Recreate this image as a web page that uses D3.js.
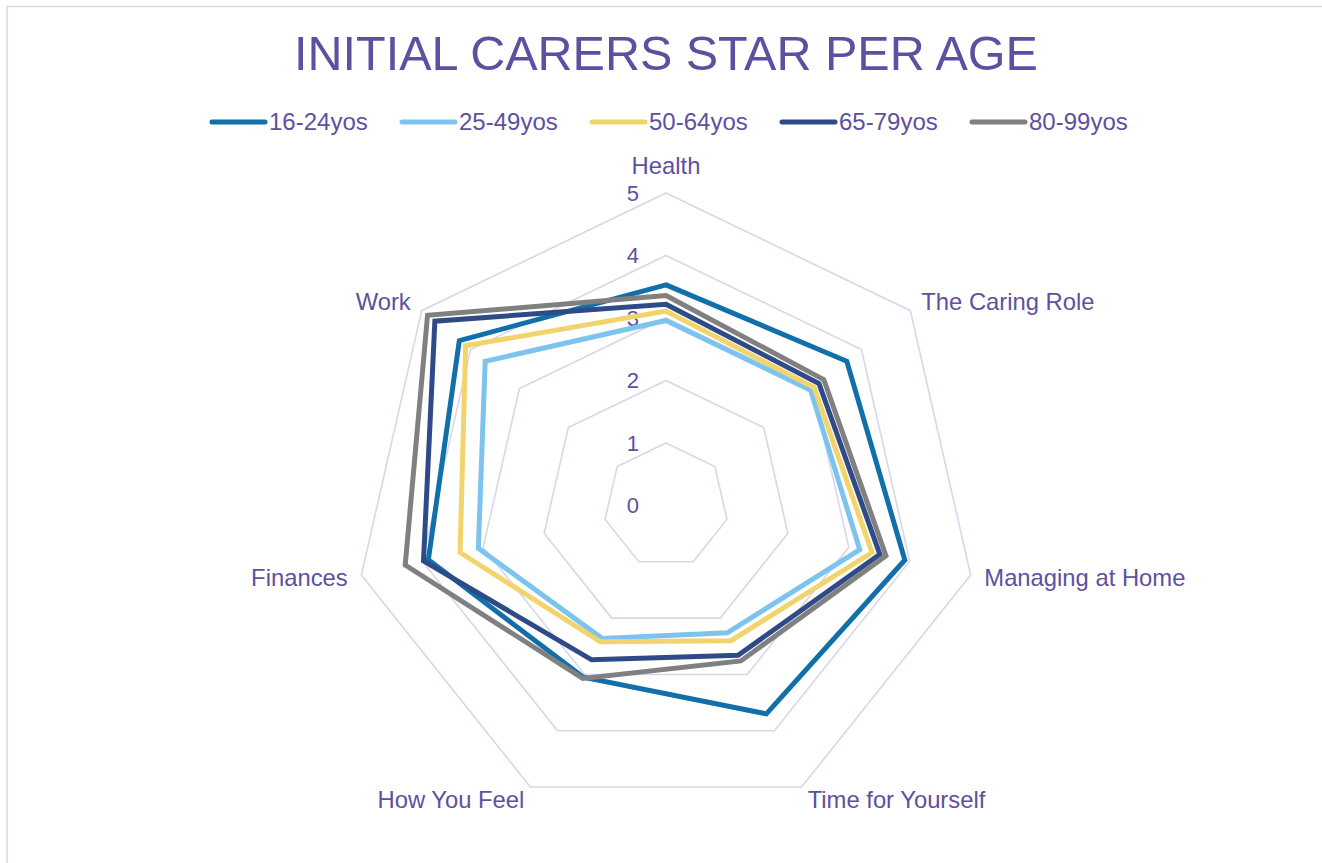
<!DOCTYPE html>
<html>
<head>
<meta charset="utf-8">
<script src="https://cdn.jsdelivr.net/npm/d3@7"></script>
<style>
  html, body { margin: 0; padding: 0; background: #fff; }
  svg { display: block; font-family: "Liberation Sans", Arial, sans-serif; }
</style>
</head>
<body>
<svg id="chart" width="1322" height="863"></svg>
<script>
// --- data ---
const axes = ["Health", "The Caring Role", "Managing at Home", "Time for Yourself",
              "How You Feel", "Finances", "Work"];
const seriesNames = ["16-24yos", "25-49yos", "50-64yos", "65-79yos", "80-99yos"];
const age16_24 = [3.53, 3.70, 3.92, 3.70, 3.05, 3.90, 4.23];
const age25_49 = [2.96, 2.96, 3.18, 2.26, 2.36, 3.08, 3.70];
const age50_64 = [3.11, 3.03, 3.38, 2.40, 2.42, 3.38, 4.10];
const age65_79 = [3.22, 3.13, 3.51, 2.66, 2.74, 3.98, 4.73];
const age80_99 = [3.36, 3.23, 3.61, 2.76, 3.07, 4.28, 4.88];
const seriesValues = [age16_24, age25_49, age50_64, age65_79, age80_99];
const seriesColors = ["#1170aa", "#7cc4ee", "#f2d46d", "#2f4b87", "#808080"];
const ticks = [0, 1, 2, 3, 4, 5];

const TEXT = "#5e50a1";
const GRID = "#d9d5ea";

const svg = d3.select("#chart");
const cx = 666, cy = 505.5, R = 312.5;

// chart frame
svg.append("path")
  .attr("d", `M7,870 L7,6.5 L1330,6.5`)
  .attr("fill", "none")
  .attr("stroke", GRID)
  .attr("stroke-width", 1.5);

// title
svg.append("text")
  .attr("x", cx).attr("y", 70)
  .attr("text-anchor", "middle")
  .attr("fill", TEXT)
  .style("font-size", "48.5px")
  .text("INITIAL CARERS STAR PER AGE");

// legend
const legend = svg.append("g").selectAll("g")
  .data(seriesNames)
  .join("g")
  .attr("transform", (d, i) => `translate(${212 + i * 190},122)`);
legend.append("line")
  .attr("x1", 0).attr("x2", 53)
  .attr("stroke", (d, i) => seriesColors[i])
  .attr("stroke-width", 5)
  .attr("stroke-linecap", "round");
legend.append("text")
  .attr("x", 57)
  .attr("dy", "0.35em")
  .attr("fill", TEXT)
  .style("font-size", "24px")
  .text(d => d);

// radar scales
const r = d3.scaleLinear().domain([0, 5]).range([0, R]);
const angle = d3.scalePoint().domain(axes).range([0, 2 * Math.PI * (axes.length - 1) / axes.length]);

const pt = (name, v) => {
  const a = angle(name);
  return [cx + r(v) * Math.sin(a), cy - r(v) * Math.cos(a)];
};

// gridlines (heptagons)
svg.append("g").selectAll("polygon")
  .data(ticks.filter(t => t > 0))
  .join("polygon")
  .attr("points", t => axes.map(a => pt(a, t).join(",")).join(" "))
  .attr("fill", "none")
  .attr("stroke", GRID)
  .attr("stroke-width", 1.6);

// tick labels
svg.append("g").selectAll("text")
  .data(ticks)
  .join("text")
  .attr("x", cx - 27)
  .attr("y", t => cy - r(t))
  .attr("dy", "0.35em")
  .attr("text-anchor", "end")
  .attr("fill", TEXT)
  .style("font-size", "22px")
  .text(t => t);

// axis labels
svg.append("g").selectAll("text")
  .data(axes)
  .join("text")
  .attr("x", d => {
    const a = angle(d);
    return cx + (R + 14) * Math.sin(a);
  })
  .attr("y", d => {
    const a = angle(d);
    if (a === 0) return cy - R - 27;
    return cy - (R + 14) * Math.cos(a);
  })
  .attr("dy", "0.35em")
  .attr("text-anchor", d => {
    const s = Math.sin(angle(d));
    return Math.abs(s) < 1e-6 ? "middle" : (s > 0 ? "start" : "end");
  })
  .attr("fill", TEXT)
  .style("font-size", "23.8px")
  .text(d => d);

// series
const line = d3.line().curve(d3.curveLinearClosed);
svg.append("g").selectAll("path")
  .data(seriesValues)
  .join("path")
  .attr("d", vals => line(axes.map((a, i) => pt(a, vals[i]))))
  .attr("fill", "none")
  .attr("stroke", (d, i) => seriesColors[i])
  .attr("stroke-width", 5)
  .attr("stroke-linejoin", "miter");
</script>
</body>
</html>
